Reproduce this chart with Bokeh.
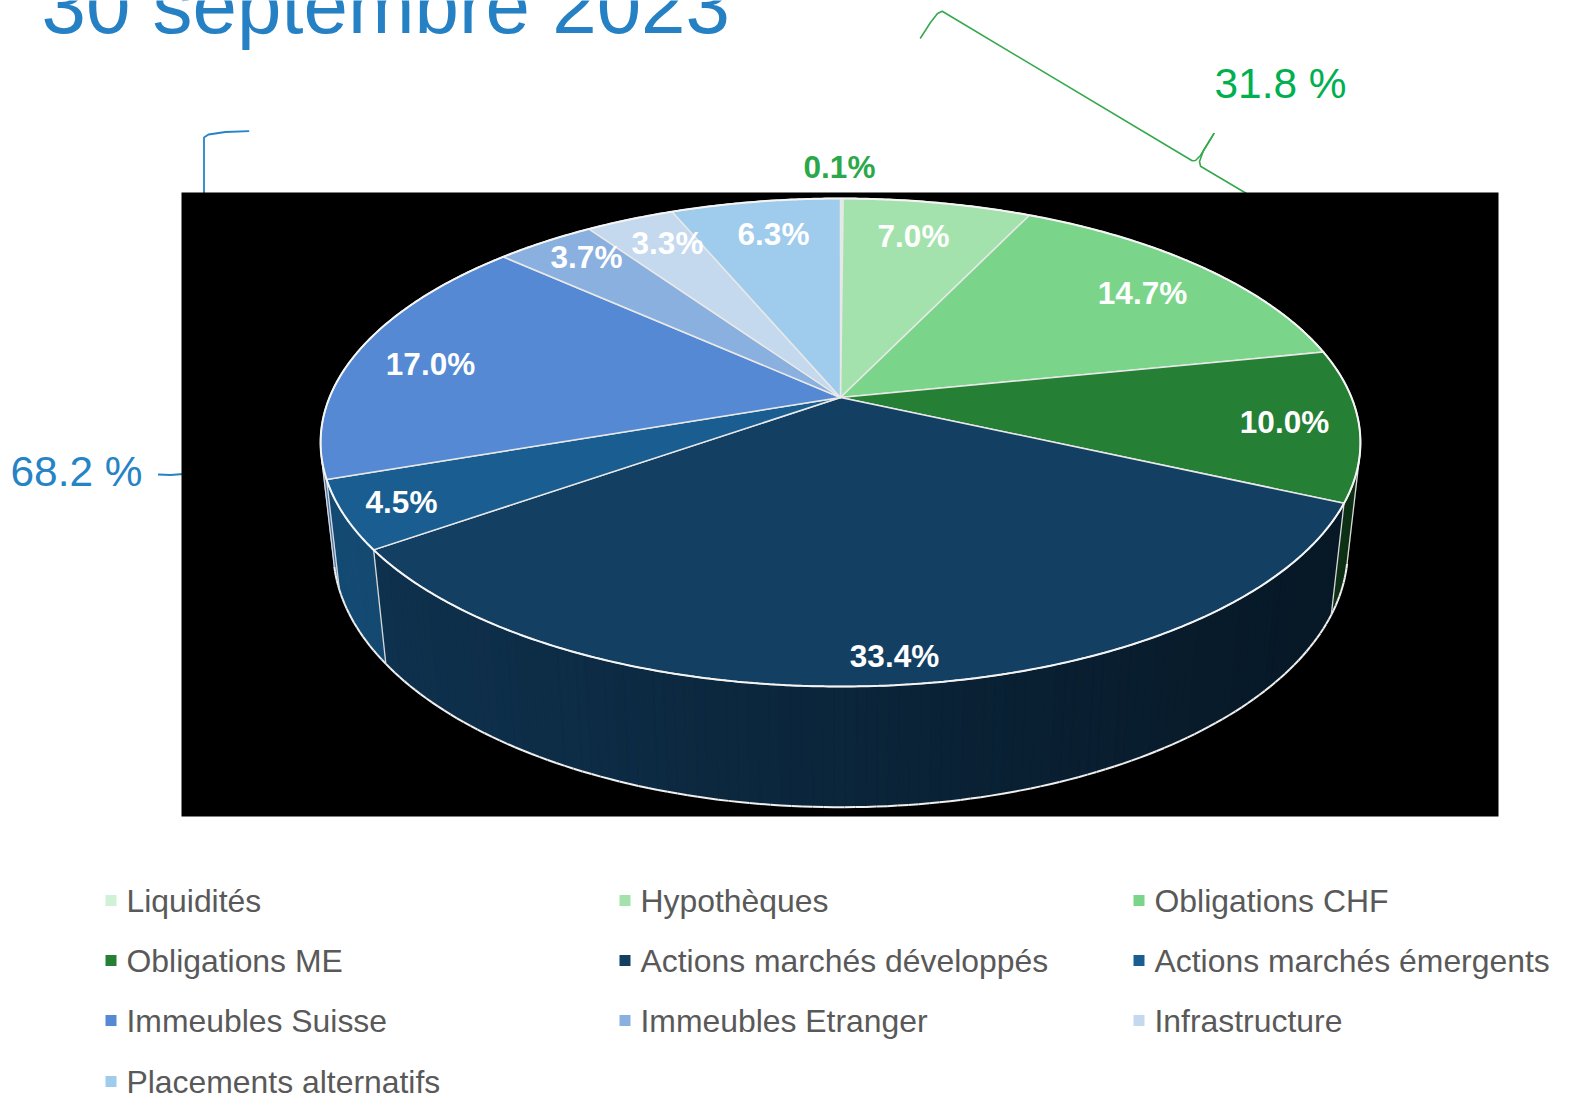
import numpy as np
from bokeh.plotting import figure
from bokeh.models import Range1d
from bokeh.core.properties import value
from bokeh.embed import file_html
from bokeh.resources import INLINE

# ---- data ----
categories = ["Liquidités", "Hypothèques", "Obligations CHF", "Obligations ME",
              "Actions marchés développés", "Actions marchés émergents",
              "Immeubles Suisse", "Immeubles Etranger", "Infrastructure",
              "Placements alternatifs"]
shares = [0.1, 7.0, 14.7, 10.0, 33.4, 4.5, 17.0, 3.7, 3.3, 6.3]
colors = ["#CFF2D6", "#A4E2AD", "#7AD58A", "#257F35", "#133F63",
          "#1A5E91", "#5589D3", "#8AB0DF", "#C4D8EE", "#9FCBEC"]
title_text = "30 septembre 2023"
green_total = "31.8 %"
blue_total = "68.2 %"

# ---- label placement (pixels), one per category ----
label_x = [839, 913, 1142, 1284, 894, 401, 430, 586, 667, 773]
label_y = [166, 235, 292, 421, 655, 501, 363, 256, 242, 233]
label_colors = ["#2BA84A"] + ["#FFFFFF"] * 9

FONT = value("Liberation Sans")
W, H = 1569, 1096
p = figure(width=W, height=H, output_backend="svg", toolbar_location=None,
           x_range=Range1d(0, W), y_range=Range1d(H, 0),
           x_axis_type=None, y_axis_type=None, min_border=0,
           outline_line_color=None, background_fill_color="white",
           border_fill_color="white", margin=(0, 0, 0, 0))
p.grid.visible = False

# ---- perspective projection of the pie ----
CX, CY = 840.0, 397.0
K = -0.1844
A, B = 511.0, 235.7
M, C = 0.024, 108.3
STEPS = 360


def project(frac, z=0.0):
    t = 2 * np.pi * np.asarray(frac, dtype=float)
    u, v = np.sin(t), -np.cos(t)
    d = 1 + K * v + M * z
    return CX + A * u / d, CY + (B * v + C * z) / d


def hex_rgb(h):
    return tuple(int(h[i:i + 2], 16) for i in (1, 3, 5))


def shade(h, x):
    f = 0.78 - (x - 390.0) / 910.0 * 0.38
    f = float(np.clip(f, 0.36, 0.90))
    r, g, b = hex_rgb(h)
    return "#%02x%02x%02x" % (int(r * f), int(g * f), int(b * f))


edges = np.concatenate([[0.0], np.cumsum(shares)]) / float(np.sum(shares))

# decorative braces, below the black chart area
GREEN = "#35A94D"
BLUE = "#2683C6"
p.line([919.7, 930, 937, 941.7, 1191.7, 1195, 1200, 1208, 1213.7],
       [38, 22, 13, 10.7, 160.3, 160, 155, 142, 132.7], line_color=GREEN, line_width=1.6)
p.line([1213.7, 1203, 1199, 1200, 1246],
       [132.7, 150, 161, 165.7, 193], line_color=GREEN, line_width=1.6)
p.line([248.7, 225, 208, 203.5, 203.5], [130.7, 131.5, 134, 137, 195],
       line_color=BLUE, line_width=1.8)
p.line([157.5, 170, 183], [474, 474.5, 473.5], line_color=BLUE, line_width=2.2)

# transparent chart background that came out black
p.quad(left=[181], right=[1498], top=[192], bottom=[816], fill_color="black", line_color=None)

# ---- side wall ----
qx, qy, qc = [], [], []
rim_x, rim_y = [], []
sep_x, sep_y = [], []
visible_any = []
for i, col in enumerate(colors):
    n = max(2, int((edges[i + 1] - edges[i]) * STEPS))
    fr = np.linspace(edges[i], edges[i + 1], n + 1)
    tx, ty = project(fr, 0)
    bx, by = project(fr, 1)
    for j in range(n):
        xs = [tx[j], tx[j + 1], bx[j + 1], bx[j]]
        ys = [ty[j], ty[j + 1], by[j + 1], by[j]]
        area = sum(xs[q] * ys[(q + 1) % 4] - xs[(q + 1) % 4] * ys[q] for q in range(4))
        if area < 0:
            qx.append(xs)
            qy.append(ys)
            qc.append(shade(col, float(np.mean(xs))))
            rim_x.append([bx[j], bx[j + 1]])
            rim_y.append([by[j], by[j + 1]])
            visible_any.append((fr[j], fr[j + 1]))

p.patches(qx, qy, fill_color=qc, line_color=qc, line_width=1.0)
p.multi_line(rim_x, rim_y, line_color="#F0F0F0", line_width=2.0)

lo = min(a for a, _ in visible_any)
hi = max(b for _, b in visible_any)
for f in [lo, hi] + [e for e in edges[1:-1] if lo < e < hi]:
    x0, y0 = project(f, 0)
    x1, y1 = project(f, 1)
    sep_x.append([float(x0), float(x1)])
    sep_y.append([float(y0), float(y1)])
p.multi_line(sep_x, sep_y, line_color="#D8D8D8", line_width=1.3)

# ---- top faces ----
fx, fy = [], []
for i in range(len(shares)):
    n = max(2, int((edges[i + 1] - edges[i]) * 720))
    fr = np.linspace(edges[i], edges[i + 1], n + 1)
    x, y = project(fr, 0)
    fx.append([CX] + list(x))
    fy.append([CY] + list(y))
p.patches(fx, fy, fill_color=colors, line_color="#E8E8E8", line_width=1.5, line_join="round")
ring_x, ring_y = project(np.linspace(0, 1, 721), 0)
p.line(ring_x, ring_y, line_color="#F4F4F4", line_width=2.0)

# ---- data labels ----
p.text(label_x, label_y, text=[f"{s:.1f}%" for s in shares], text_color=label_colors,
       text_font=FONT, text_font_style="bold", text_font_size=value("31.5px"),
       text_align="center", text_baseline="middle")

# ---- title and totals ----
p.text([41], [5], text=[title_text], text_color="#2581C4", text_font=FONT,
       text_font_size=value("79.9px"), text_align="left", text_baseline="middle")
p.text([1214], [83], text=[green_total], text_color="#00B050", text_font=FONT,
       text_font_size=value("42.4px"), text_align="left", text_baseline="middle")
p.text([10], [471], text=[blue_total], text_color=BLUE, text_font=FONT,
       text_font_size=value("42.4px"), text_align="left", text_baseline="middle")

# ---- legend ----
col_x = [105, 619, 1133]
row_y = [900, 960, 1020, 1081]
lx = [col_x[i % 3] for i in range(len(categories))]
ly = [row_y[i // 3] for i in range(len(categories))]
p.rect([x + 5.5 for x in lx], ly, width=11, height=11, fill_color=colors, line_color=None)
p.text([x + 21 for x in lx], ly, text=categories, text_color="#595959", text_font=FONT,
       text_font_size=value("31.9px"), text_align="left", text_baseline="middle")

open("out.html", "w").write(file_html(p, INLINE))
